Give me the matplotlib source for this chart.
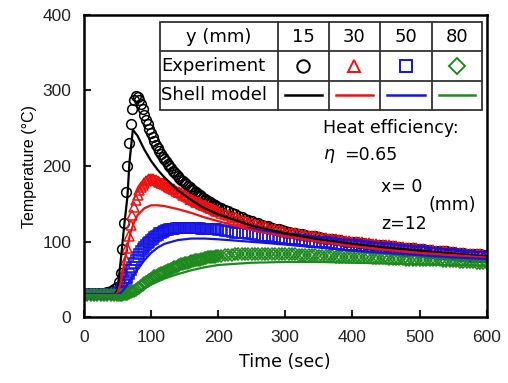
import numpy as np
import matplotlib.pyplot as plt

plt.rcParams['font.family'] = ['Liberation Sans', 'DejaVu Sans']

# experiment: every 5 s, every 2.5 s between 50 and 200 s
t_exp = np.concatenate([np.arange(0, 50, 5), np.arange(50, 200, 2.5), np.arange(200, 601, 5)])

exp_15 = [30, 30, 30, 30, 31, 31, 32, 33, 35, 37,
          40, 46, 58, 90, 125, 165, 200, 230, 255, 275,
          288, 293, 292, 288, 282, 275, 268, 261, 255, 249,
          244, 238, 233, 228, 224, 220, 216, 212, 209, 206,
          203, 200, 197, 194, 192, 189, 187, 184, 182, 180,
          178, 176, 174, 172, 170, 168, 166, 165, 163, 161,
          160, 158, 157, 155, 154, 152, 151, 150, 149, 147,
          146, 144, 142, 140, 138, 136, 134, 132, 130, 128,
          127, 125, 124, 122, 121, 120, 118, 117, 116, 115, 114,
          113, 112, 111, 110, 110, 109, 108, 107, 107, 106,
          105, 104, 104, 103, 102, 102, 101, 100, 100, 99,
          99, 98, 98, 97, 97, 96, 96, 95, 95, 94,
          94, 94, 93, 93, 92, 92, 91, 91, 90, 90,
          90, 89, 89, 88, 88, 87, 87, 87, 86, 86,
          85, 85, 85, 84, 84, 83, 83, 83, 82, 82]

exp_30 = [30, 30, 30, 30, 30, 30, 30, 31, 31, 32,
          33, 36, 42, 50, 60, 75, 92, 108, 122, 135,
          146, 155, 162, 168, 172, 175, 178, 180, 182, 183,
          183, 183, 182, 181, 180, 179, 178, 177, 176, 175,
          174, 172, 171, 170, 169, 167, 166, 165, 164, 162,
          161, 160, 159, 157, 156, 155, 154, 153, 152, 151,
          150, 149, 148, 147, 146, 145, 144, 143, 142, 141,
          140, 138, 137, 135, 133, 132, 130, 129, 127, 126,
          125, 123, 122, 121, 120, 118, 117, 116, 115, 114, 113,
          112, 111, 111, 110, 109, 109, 108, 107, 107, 106,
          105, 105, 104, 104, 103, 102, 102, 101, 101, 100,
          100, 99, 99, 98, 98, 97, 97, 96, 96, 95,
          95, 94, 94, 93, 93, 92, 92, 91, 91, 90,
          90, 89, 89, 89, 88, 88, 87, 87, 86, 86,
          86, 85, 85, 84, 84, 84, 83, 83, 82, 82]

exp_50 = [30, 30, 30, 30, 30, 30, 30, 30, 31, 31,
          32, 33, 35, 38, 42, 47, 52, 57, 62, 67,
          72, 76, 80, 84, 87, 90, 93, 96, 98, 100,
          102, 104, 106, 108, 109, 111, 112, 113, 114, 115,
          115, 116, 116, 117, 117, 118, 118, 118, 118, 118,
          118, 118, 118, 118, 118, 118, 118, 118, 118, 118,
          117, 117, 117, 117, 117, 117, 116, 116, 116, 116,
          115, 115, 114, 114, 113, 112, 112, 111, 111, 110,
          110, 109, 108, 108, 107, 107, 106, 106, 105, 105, 104,
          104, 103, 103, 102, 102, 101, 101, 100, 100, 99,
          99, 99, 98, 98, 97, 97, 96, 96, 95, 95,
          95, 94, 94, 93, 93, 92, 92, 92, 91, 91,
          90, 90, 89, 89, 89, 88, 88, 87, 87, 87,
          86, 86, 85, 85, 85, 84, 84, 83, 83, 83,
          82, 82, 81, 81, 81, 80, 80, 80, 79, 79]

exp_80 = [29, 29, 29, 29, 29, 29, 29, 29, 29, 29,
          29, 29, 29, 29, 30, 30, 31, 32, 33, 34,
          35, 36, 38, 39, 41, 43, 45, 46, 48, 49,
          51, 52, 54, 55, 56, 57, 58, 59, 60, 61,
          62, 63, 64, 65, 66, 67, 68, 69, 70, 70,
          71, 72, 72, 73, 74, 74, 75, 75, 76, 76,
          77, 77, 78, 78, 79, 79, 80, 80, 80, 81,
          81, 81, 82, 82, 82, 83, 83, 83, 83, 83,
          83, 83, 83, 83, 83, 83, 83, 83, 83, 83, 83,
          83, 83, 83, 82, 82, 82, 82, 82, 82, 81,
          81, 81, 81, 81, 80, 80, 80, 80, 80, 80,
          79, 79, 79, 79, 79, 78, 78, 78, 78, 78,
          77, 77, 77, 77, 77, 76, 76, 76, 76, 76,
          76, 75, 75, 75, 75, 75, 74, 74, 74, 74,
          74, 73, 73, 73, 73, 73, 72, 72, 72, 72]

# shell model
t_m15 = [0, 45, 50, 55, 60, 65, 68, 73, 80, 90, 100, 110, 120, 140, 160, 180, 200, 250, 300, 350, 400, 450, 500, 550, 600]
m_15 = [30, 30, 35, 75, 120, 160, 205, 248, 240, 222, 207, 195, 185, 168, 155, 144, 136, 121, 111, 103, 97, 92, 88, 84, 80]
t_m30 = [0, 45, 50, 55, 60, 65, 70, 75, 80, 90, 100, 110, 120, 140, 160, 180, 200, 230, 260, 300, 350, 400, 450, 500, 550, 600]
m_30 = [30, 30, 32, 45, 70, 95, 113, 126, 135, 144, 148, 148, 147, 143, 138, 132, 127, 120, 113, 107, 100, 94, 89, 85, 82, 79]
t_m50 = [0, 50, 55, 60, 70, 80, 90, 100, 110, 120, 140, 160, 180, 200, 230, 260, 300, 350, 400, 450, 500, 550, 600]
m_50 = [30, 30, 32, 37, 50, 63, 75, 85, 92, 97, 102, 104, 104, 103, 101, 99, 96, 92, 88, 85, 82, 79, 77]
t_m80 = [0, 60, 70, 80, 90, 100, 120, 140, 160, 180, 200, 250, 300, 350, 400, 450, 500, 550, 600]
m_80 = [29, 29, 31, 34, 38, 43, 51, 57, 62, 66, 69, 72, 73, 73, 72, 71, 70, 69, 68]

y_labels = ['15', '30', '50', '80']
colors = ['black', '#ee1111', '#1414e6', '#1e8a1e']
markers = ['o', '^', 's', 'D']

fig = plt.figure(figsize=(5.08, 3.83), dpi=100)
ax = fig.add_axes([0.165, 0.172, 0.793, 0.789])

exps = [exp_15, exp_30, exp_50, exp_80]
models = [(t_m15, m_15), (t_m30, m_30), (t_m50, m_50), (t_m80, m_80)]
for i in range(4):
    ms = 6 if markers[i] == 'D' else 7
    ax.plot(t_exp, exps[i], linestyle='none', marker=markers[i], ms=ms,
            mfc='none', mec=colors[i], mew=1.1)
for i in range(4):
    ax.plot(models[i][0], models[i][1], color=colors[i], lw=1.6)

ax.set_xlim(0, 600)
ax.set_ylim(0, 400)
ax.set_xticks(range(0, 601, 100))
ax.set_yticks(range(0, 401, 100))
ax.tick_params(direction='in', length=5, width=1.5, labelsize=12.5, pad=9, colors='#222222')
for s in ax.spines.values():
    s.set_linewidth(1.8)
ax.set_xlabel('Time (sec)', fontsize=12.5, labelpad=6, family='DejaVu Sans')
ax.set_ylabel('Temperature (°C)', fontsize=11.5, labelpad=4)

# table legend in axes fraction
x0, x1, y0, y1 = 0.189, 0.988, 0.685, 0.977
col_w = [118, 51, 51, 52, 50]
edges = np.concatenate([[0], np.cumsum(col_w)]) / sum(col_w) * (x1 - x0) + x0
row_edges = np.linspace(y1, y0, 4)
ax.add_patch(plt.Rectangle((x0, y0), x1 - x0, y1 - y0, transform=ax.transAxes,
                           fc='white', ec='#333333', lw=1.3, zorder=5))
for xe in edges[1:-1]:
    ax.plot([xe, xe], [y0, y1], transform=ax.transAxes, color='#333333', lw=1.3, zorder=6)
for ye in row_edges[1:-1]:
    ax.plot([x0, x1], [ye, ye], transform=ax.transAxes, color='#333333', lw=1.3, zorder=6)
rc = (row_edges[:-1] + row_edges[1:]) / 2
cc = (edges[:-1] + edges[1:]) / 2
tfont = dict(fontsize=13, family='DejaVu Sans', zorder=7, transform=ax.transAxes, va='center')
ax.text(cc[0], rc[0], 'y (mm)', ha='center', **tfont)
ax.text(x0 + 0.003, rc[1], 'Experiment', ha='left', **tfont)
ax.text(x0 + 0.003, rc[2], 'Shell model', ha='left', **tfont)
for i in range(4):
    cx = cc[i + 1]
    ax.text(cx, rc[0], y_labels[i], ha='center', **tfont)
    ax.plot([cx], [rc[1]], transform=ax.transAxes, marker=markers[i], ms=9 if i != 3 else 8,
            mfc='none', mec=colors[i], mew=1.4, zorder=7, clip_on=False)
    hw = (edges[i + 2] - edges[i + 1]) * 0.36
    ax.plot([cx - hw, cx + hw], [rc[2], rc[2]], transform=ax.transAxes, color=colors[i], lw=1.8, zorder=7)

afont = dict(fontsize=12.5, family='DejaVu Sans', ha='left', va='center')
ax.text(356, 250, 'Heat efficiency:', **afont)
ax.text(356, 213, '$\\eta$', ha='left', va='center', fontsize=12.5)
ax.text(388, 215, '=0.65', **afont)
ax.text(443, 172, 'x= 0', **afont)
ax.text(443, 123, 'z=12', **afont)
ax.text(514, 148, '(mm)', **afont)

plt.savefig('out.png', dpi=100)
